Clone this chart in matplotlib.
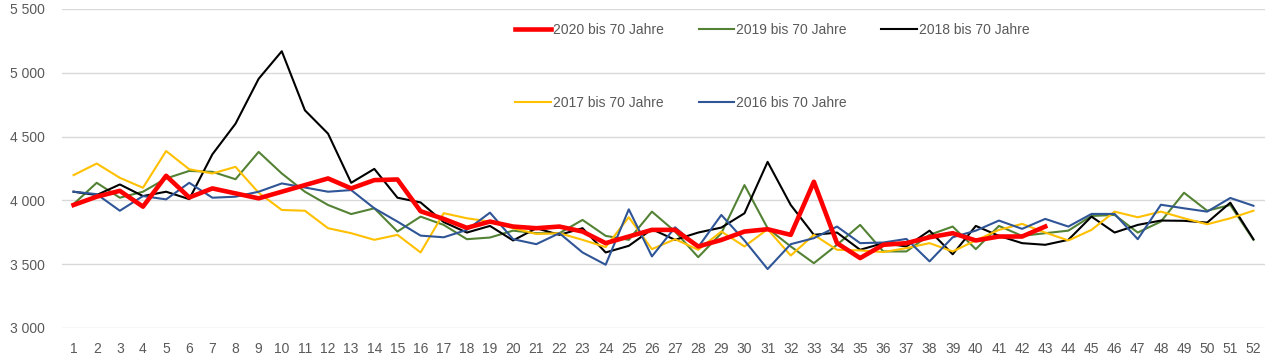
import numpy as np
import matplotlib
matplotlib.use("Agg")
import matplotlib.pyplot as plt
from matplotlib.ticker import FuncFormatter

plt.rcParams['font.family'] = ['Liberation Sans', 'DejaVu Sans']

weeks = np.arange(1, 53)

y2020 = [3964, 4029, 4075, 3951, 4193, 4023, 4094, 4055, 4016, 4068,
         4120, 4172, 4094, 4159, 4164, 3915, 3855, 3785, 3834, 3795,
         3782, 3795, 3756, 3665, 3717, 3769, 3769, 3639, 3690, 3756,
         3774, 3730, 4146, 3665, 3548, 3652, 3665, 3711, 3743, 3686,
         3717, 3717, 3795]
y2019 = [3971, 4138, 4021, 4068, 4172, 4231, 4224, 4166, 4380, 4211,
         4068, 3964, 3893, 3938, 3756, 3873, 3808, 3696, 3709, 3763,
         3743, 3743, 3847, 3722, 3691, 3912, 3756, 3555, 3743, 4120,
         3782, 3639, 3508, 3652, 3808, 3600, 3600, 3730, 3795, 3618,
         3800, 3722, 3743, 3763, 3878, 3886, 3748, 3834, 4060, 3919,
         3964, 3691]
y2018 = [4068, 4042, 4125, 4034, 4068, 4010, 4361, 4601, 4953, 5169,
         4706, 4523, 4138, 4247, 4021, 3984, 3830, 3748, 3800, 3686,
         3782, 3730, 3782, 3592, 3644, 3774, 3691, 3748, 3787, 3899,
         4302, 3964, 3730, 3748, 3613, 3665, 3639, 3763, 3578, 3800,
         3722, 3665, 3652, 3691, 3873, 3748, 3808, 3842, 3840, 3826,
         3982, 3696]
y2017 = [4198, 4289, 4177, 4099, 4387, 4244, 4211, 4263, 4060, 3925,
         3919, 3782, 3743, 3691, 3730, 3592, 3900, 3860, 3834, 3782,
         3737, 3743, 3691, 3634, 3868, 3618, 3696, 3613, 3756, 3639,
         3774, 3568, 3730, 3613, 3608, 3595, 3626, 3665, 3600, 3686,
         3769, 3816, 3748, 3686, 3769, 3912, 3868, 3912, 3860, 3813,
         3860, 3919]
y2016 = [4068, 4049, 3919, 4034, 4008, 4138, 4021, 4029, 4068, 4133,
         4101, 4068, 4081, 3938, 3834, 3724, 3711, 3769, 3904, 3696,
         3657, 3743, 3592, 3496, 3930, 3561, 3789, 3634, 3886, 3686,
         3462, 3657, 3704, 3795, 3665, 3670, 3698, 3522, 3711, 3763,
         3842, 3777, 3855, 3795, 3894, 3894, 3696, 3966, 3938, 3912,
         4019, 3958]

fig = plt.figure(figsize=(12.75, 3.63), dpi=100)
ax = fig.add_axes([62 / 1275, 1 - 328 / 363, (1265 - 62) / 1275, 319 / 363])

l20, = ax.plot(weeks[:len(y2020)], y2020, color="#FF0000", lw=3.3, label="2020 bis 70 Jahre", zorder=5)
l19, = ax.plot(weeks, y2019, color="#548235", lw=1.5, label="2019 bis 70 Jahre", zorder=3)
l18, = ax.plot(weeks, y2018, color="#000000", lw=1.5, label="2018 bis 70 Jahre", zorder=3)
l17, = ax.plot(weeks, y2017, color="#FFC000", lw=1.5, label="2017 bis 70 Jahre", zorder=3)
l16, = ax.plot(weeks, y2016, color="#2F5597", lw=1.5, label="2016 bis 70 Jahre", zorder=3)

ax.set_xlim(0.5, 52.5)
ax.set_ylim(3000, 5500)
ax.set_xticks(weeks)
ax.set_yticks(np.arange(3000, 5501, 500))
ax.yaxis.set_major_formatter(FuncFormatter(lambda v, p: f"{int(v):,}".replace(",", " ")))
ax.tick_params(length=0, colors="#595959", labelsize=10)
ax.tick_params(axis="x", pad=10)
ax.tick_params(axis="y", pad=12)
ax.grid(axis="y", color="#D9D9D9", lw=1)
ax.set_axisbelow(True)
for s in ax.spines.values():
    s.set_visible(False)

handles = [l20, l17, l19, l16, l18]
leg = ax.legend(handles=handles, labels=[h.get_label() for h in handles], ncol=3,
                loc="upper center", bbox_to_anchor=(0.5906, 0.975), frameon=False,
                fontsize=10, labelcolor="#595959", handlelength=2.55, handletextpad=0.15,
                columnspacing=2.5, labelspacing=4.3, borderaxespad=0)

fig.savefig("out.png", dpi=100, facecolor="white")
